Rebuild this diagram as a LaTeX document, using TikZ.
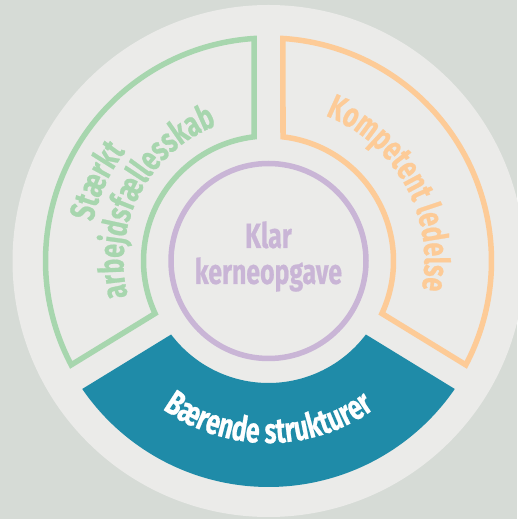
\documentclass[tikz,border=0pt]{standalone}
\usepackage{fontspec}
\usetikzlibrary{decorations.text}
\newfontfamily\dinfont{Fira Sans}[FakeStretch=0.71, FakeBold=0.6]
\newcommand\wheelfont{\dinfont\bfseries\fontsize{35}{36}\selectfont}
\definecolor{backdrop}{HTML}{D6DBD6}
\definecolor{disc}{HTML}{EBEBE9}
\definecolor{ringgreen}{HTML}{A7D6AE}
\definecolor{ringorange}{HTML}{FDCB97}
\definecolor{ringpurple}{HTML}{C9B5D6}
\definecolor{ringteal}{HTML}{1F8BA8}

\begin{document}
\begin{tikzpicture}[x=1pt,y=1pt,
  part/.style={line width=5.5pt, line join=miter},
  arclabel/.style={decorate, decoration={text along path, text align=center, text color=#1}}]
\fill[backdrop] (0,0) rectangle (517,519);
\useasboundingbox (0,0) rectangle (517,519);
\coordinate (mid) at (268.5,258);
\begin{scope}[shift={(mid)}]
\fill[disc] (0,0) circle[radius=256];
\foreach \a/\b/\c in {90/211.5/ringgreen, -31.5/90/ringorange}{
  \draw[part, draw=\c] ({\a+asin(14.5/223)}:223)
    arc[start angle={\a+asin(14.5/223)}, end angle={\b-asin(14.5/223)}, radius=223]
    -- ({\b-asin(14.5/125)}:125)
    arc[start angle={\b-asin(14.5/125)}, end angle={\a+asin(14.5/125)}, radius=125] -- cycle;
}
\fill[ringteal] ({211.5+asin(11.8/226)}:226)
  arc[start angle={211.5+asin(11.8/226)}, end angle={328.5-asin(11.8/226)}, radius=226]
  -- ({328.5-asin(11.8/122)}:122)
  arc[start angle={328.5-asin(11.8/122)}, end angle={211.5+asin(11.8/122)}, radius=122] -- cycle;
\draw[part, ringpurple] (0,0) circle[radius=97.5];
\node[font=\wheelfont, text=ringpurple, align=center, inner sep=0] (kerne) at (0,4.5) {Klar\\kerneopgave};
\path[arclabel=ringgreen, decoration={text={|\wheelfont|Stærkt}}]
  (215:180) arc[start angle=215, end angle=95, radius=180];
\path[arclabel=ringgreen, decoration={text={|\wheelfont|arbejdsfællesskab}}]
  (212.5:145) arc[start angle=212.5, end angle=92.5, radius=145];
\path[arclabel=ringorange, decoration={text={|\wheelfont|Kompetent ledelse}}]
  (89:156) arc[start angle=89, end angle=-31, radius=156];
\path[arclabel=white, decoration={text={|\wheelfont|Bærende strukturer}}]
  (210:182) arc[start angle=210, end angle=330, radius=182];
\end{scope}
\end{tikzpicture}
\end{document}
